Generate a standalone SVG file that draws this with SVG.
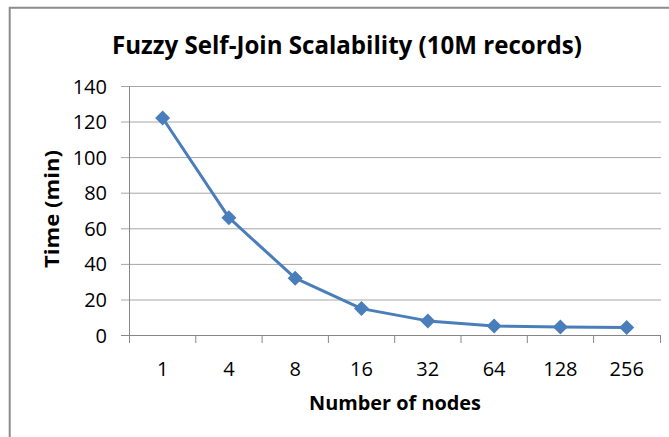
<svg xmlns="http://www.w3.org/2000/svg" width="669" height="437" viewBox="0 0 669 437">
  <style>
    .frame { fill: none; stroke: #8c8c8c; stroke-width: 2; }
    .grid { stroke: #a6a6a6; stroke-width: 1; }
    .axis { stroke: #868686; stroke-width: 1; fill: none; }
    .series { fill: none; stroke: #4a7ebb; stroke-width: 3; stroke-linejoin: round; }
    .mark { fill: #4a7ebb; }
    .tick { font-family: "Open Sans", "Liberation Sans", sans-serif; font-size: 20px; fill: #000; }
    .ytick { text-anchor: end; }
    .xtick { text-anchor: middle; }
    .title { font-family: "Open Sans", "Liberation Sans", sans-serif; font-weight: bold; font-size: 25px; fill: #000; text-anchor: middle; }
    .axtitle { font-family: "Open Sans", "Liberation Sans", sans-serif; font-weight: bold; font-size: 19px; fill: #000; text-anchor: middle; }
  </style>
  <defs>
    <path id="diamond" class="mark" d="M0,-7.5 L7.5,0 L0,7.5 L-7.5,0 Z"/>
  </defs>

  <rect width="669" height="437" fill="#ffffff"/>
  <!-- chart frame (left and top edges visible) -->
  <path class="frame" d="M9.7,437 V7.7 H669"/>

  <text id="chart-title" class="title" x="347" y="54" textLength="470" lengthAdjust="spacingAndGlyphs">Fuzzy Self-Join Scalability (10M records)</text>

  <!-- horizontal gridlines with left tick marks -->
  <g id="gridlines">
    <line class="grid" x1="121" y1="300" x2="661" y2="300"/>
    <line class="grid" x1="121" y1="264.4" x2="661" y2="264.4"/>
    <line class="grid" x1="121" y1="228.8" x2="661" y2="228.8"/>
    <line class="grid" x1="121" y1="193.2" x2="661" y2="193.2"/>
    <line class="grid" x1="121" y1="157.6" x2="661" y2="157.6"/>
    <line class="grid" x1="121" y1="122" x2="661" y2="122"/>
    <line class="grid" x1="121" y1="86.5" x2="661" y2="86.5"/>
  </g>

  <!-- axes -->
  <g id="axes">
    <line class="axis" x1="129.5" y1="86.5" x2="129.5" y2="343"/>
    <line class="axis" x1="121" y1="335.5" x2="661" y2="335.5"/>
    <path class="axis" d="M195.8,335.5 V343 M262.1,335.5 V343 M328.4,335.5 V343 M394.7,335.5 V343 M461,335.5 V343 M527.3,335.5 V343 M593.6,335.5 V343 M660.5,335.5 V343"/>
  </g>

  <g id="y-labels">
    <text class="tick ytick" x="107" y="342.5">0</text>
    <text class="tick ytick" x="107" y="307">20</text>
    <text class="tick ytick" x="107" y="271.4">40</text>
    <text class="tick ytick" x="107" y="235.8">60</text>
    <text class="tick ytick" x="107" y="200.2">80</text>
    <text class="tick ytick" x="107" y="164.6">100</text>
    <text class="tick ytick" x="107" y="129">120</text>
    <text class="tick ytick" x="107" y="93.5">140</text>
  </g>

  <g id="x-labels">
    <text class="tick xtick" x="162.6" y="376">1</text>
    <text class="tick xtick" x="228.9" y="376">4</text>
    <text class="tick xtick" x="295.2" y="376">8</text>
    <text class="tick xtick" x="361.5" y="376">16</text>
    <text class="tick xtick" x="427.8" y="376">32</text>
    <text class="tick xtick" x="494.1" y="376">64</text>
    <text class="tick xtick" x="560.4" y="376">128</text>
    <text class="tick xtick" x="626.7" y="376">256</text>
  </g>

  <text id="x-title" class="axtitle" x="395" y="410" textLength="172" lengthAdjust="spacingAndGlyphs">Number of nodes</text>
  <text id="y-title" class="axtitle" transform="translate(59,209) rotate(-90)" x="0" y="0" textLength="118" lengthAdjust="spacingAndGlyphs">Time (min)</text>

  <!-- data series -->
  <g id="series">
    <polyline class="series" points="162.6,118 228.9,217.7 295.2,278.2 361.5,308.6 427.8,320.9 494.1,326.1 560.4,327 626.7,327.5"/>
    <use href="#diamond" x="162.6" y="118"/>
    <use href="#diamond" x="228.9" y="217.7"/>
    <use href="#diamond" x="295.2" y="278.2"/>
    <use href="#diamond" x="361.5" y="308.6"/>
    <use href="#diamond" x="427.8" y="320.9"/>
    <use href="#diamond" x="494.1" y="326.1"/>
    <use href="#diamond" x="560.4" y="327"/>
    <use href="#diamond" x="626.7" y="327.5"/>
  </g>
</svg>
